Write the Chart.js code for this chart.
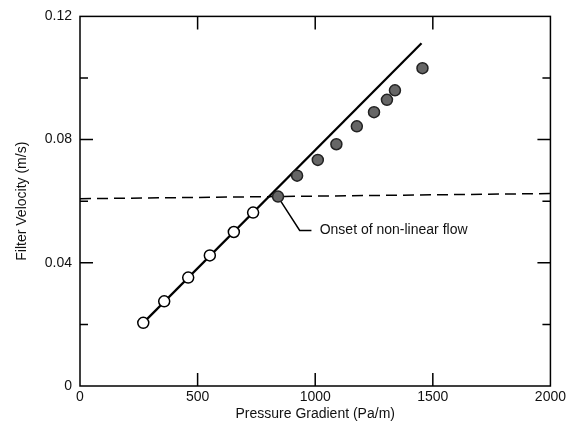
<!DOCTYPE html>
<html>
<head>
<meta charset="utf-8">
<script src="https://cdn.jsdelivr.net/npm/chart.js@4.4.1/dist/chart.umd.min.js"></script>
<style>
  body { margin: 0; background: #fff; }
</style>
</head>
<body>
<canvas id="mycanvas" width="569" height="431"></canvas>
<script>
// linear regime (open circles)
const linearX = [269, 358, 460, 552, 654, 736];
const linearY = [0.0205, 0.0275, 0.0352, 0.0424, 0.0500, 0.0563];
// non-linear regime (filled circles)
const nonlinX = [842, 923, 1011, 1090, 1177, 1250, 1305, 1339, 1456];
const nonlinY = [0.0615, 0.0683, 0.0734, 0.0785, 0.0843, 0.0889, 0.0929, 0.0960, 0.1032];
// fitted straight line (end points)
const fitX = [269, 1452];
const fitY = [0.0205, 0.1113];
// dashed onset level
const onsetX = [0, 2000];
const onsetY = [0.0608, 0.0625];
// annotation leader + label
const leaderX = [852, 934, 984];
const leaderY = [0.0602, 0.0505, 0.0505];
const noteText = 'Onset of non-linear flow';
const noteAt = {x: 1019, y: 0.0505};

const xTicks = [0, 500, 1000, 1500, 2000];
const yTickLabels = ['0', '0.04', '0.08', '0.12'];

const pts = (xs, ys) => xs.map((x, i) => ({x: x, y: ys[i]}));
const FONT = 'Liberation Sans, Arial, Helvetica, sans-serif';

const framePlugin = {
  id: 'frame',
  afterDraw(chart) {
    const ctx = chart.ctx, a = chart.chartArea;
    const xs = chart.scales.x, ys = chart.scales.y;
    ctx.save();
    ctx.strokeStyle = '#000';
    ctx.lineWidth = 1.5;
    ctx.strokeRect(a.left, a.top, a.right - a.left, a.bottom - a.top);
    ctx.beginPath();
    xs.ticks.forEach(t => {
      if (t.value <= xs.min || t.value >= xs.max) return;
      const px = xs.getPixelForValue(t.value);
      ctx.moveTo(px, a.bottom); ctx.lineTo(px, a.bottom - 13);
      ctx.moveTo(px, a.top); ctx.lineTo(px, a.top + 13);
    });
    ys.ticks.forEach(t => {
      if (t.value <= ys.min + 1e-9 || t.value >= ys.max - 1e-9) return;
      const py = ys.getPixelForValue(t.value);
      const len = t.label ? 13 : 8;
      ctx.moveTo(a.left, py); ctx.lineTo(a.left + len, py);
      ctx.moveTo(a.right, py); ctx.lineTo(a.right - len, py);
    });
    ctx.stroke();
    // annotation text
    ctx.fillStyle = '#111';
    ctx.font = '14px ' + FONT;
    ctx.textBaseline = 'middle';
    ctx.fillText(noteText, xs.getPixelForValue(noteAt.x), ys.getPixelForValue(noteAt.y));
    ctx.restore();
  }
};

const config = {
  type: 'scatter',
  data: {
    datasets: [
      {
        data: pts(linearX, linearY), order: 1,
        pointRadius: 5.5, pointBackgroundColor: '#fff', pointBorderColor: '#000', pointBorderWidth: 1.5,
        showLine: false
      },
      {
        data: pts(nonlinX, nonlinY), order: 1,
        pointRadius: 5.5, pointBackgroundColor: '#666', pointBorderColor: '#222', pointBorderWidth: 1.5,
        showLine: false
      },
      {
        data: pts(fitX, fitY), order: 3,
        showLine: true, borderColor: '#000', borderWidth: 2.2, pointRadius: 0
      },
      {
        data: pts(onsetX, onsetY), order: 4,
        showLine: true, borderColor: '#000', borderWidth: 1.5, borderDash: [11, 6], pointRadius: 0
      },
      {
        data: pts(leaderX, leaderY), order: 4,
        showLine: true, borderColor: '#000', borderWidth: 1.5, pointRadius: 0
      }
    ]
  },
  options: {
    responsive: false,
    animation: false,
    layout: { padding: { top: 15, right: 17, left: 0, bottom: 0 } },
    plugins: { legend: { display: false }, tooltip: { enabled: false } },
    scales: {
      x: {
        type: 'linear', min: 0, max: 2000,
        afterBuildTicks: s => { s.ticks = xTicks.map(v => ({value: v})); },
        afterFit: s => { s.height = 45; },
        grid: { display: false, drawTicks: false },
        border: { display: false },
        ticks: { color: '#111', font: { family: FONT, size: 14 }, padding: 3, maxRotation: 0,
                 callback: v => String(v) },
        title: { display: true, text: 'Pressure Gradient (Pa/m)', color: '#111',
                 font: { family: FONT, size: 14 }, padding: { top: 0, bottom: 8 } }
      },
      y: {
        type: 'linear', min: 0, max: 0.12,
        ticks: {
          stepSize: 0.02, color: '#111', font: { family: FONT, size: 14 }, padding: 8,
          callback: v => {
            const k = Math.round(v * 100);
            return k % 4 === 0 ? yTickLabels[k / 4] : '';
          }
        },
        afterFit: s => { s.width = 80; },
        grid: { display: false, drawTicks: false },
        border: { display: false },
        title: { display: true, text: 'Filter Velocity (m/s)', color: '#111',
                 font: { family: FONT, size: 14 }, padding: { top: 14, bottom: 0 } }
      }
    }
  },
  plugins: [framePlugin]
};

const ctx = document.getElementById('mycanvas');
const myChart = new Chart(ctx, config);
</script>
</body>
</html>
